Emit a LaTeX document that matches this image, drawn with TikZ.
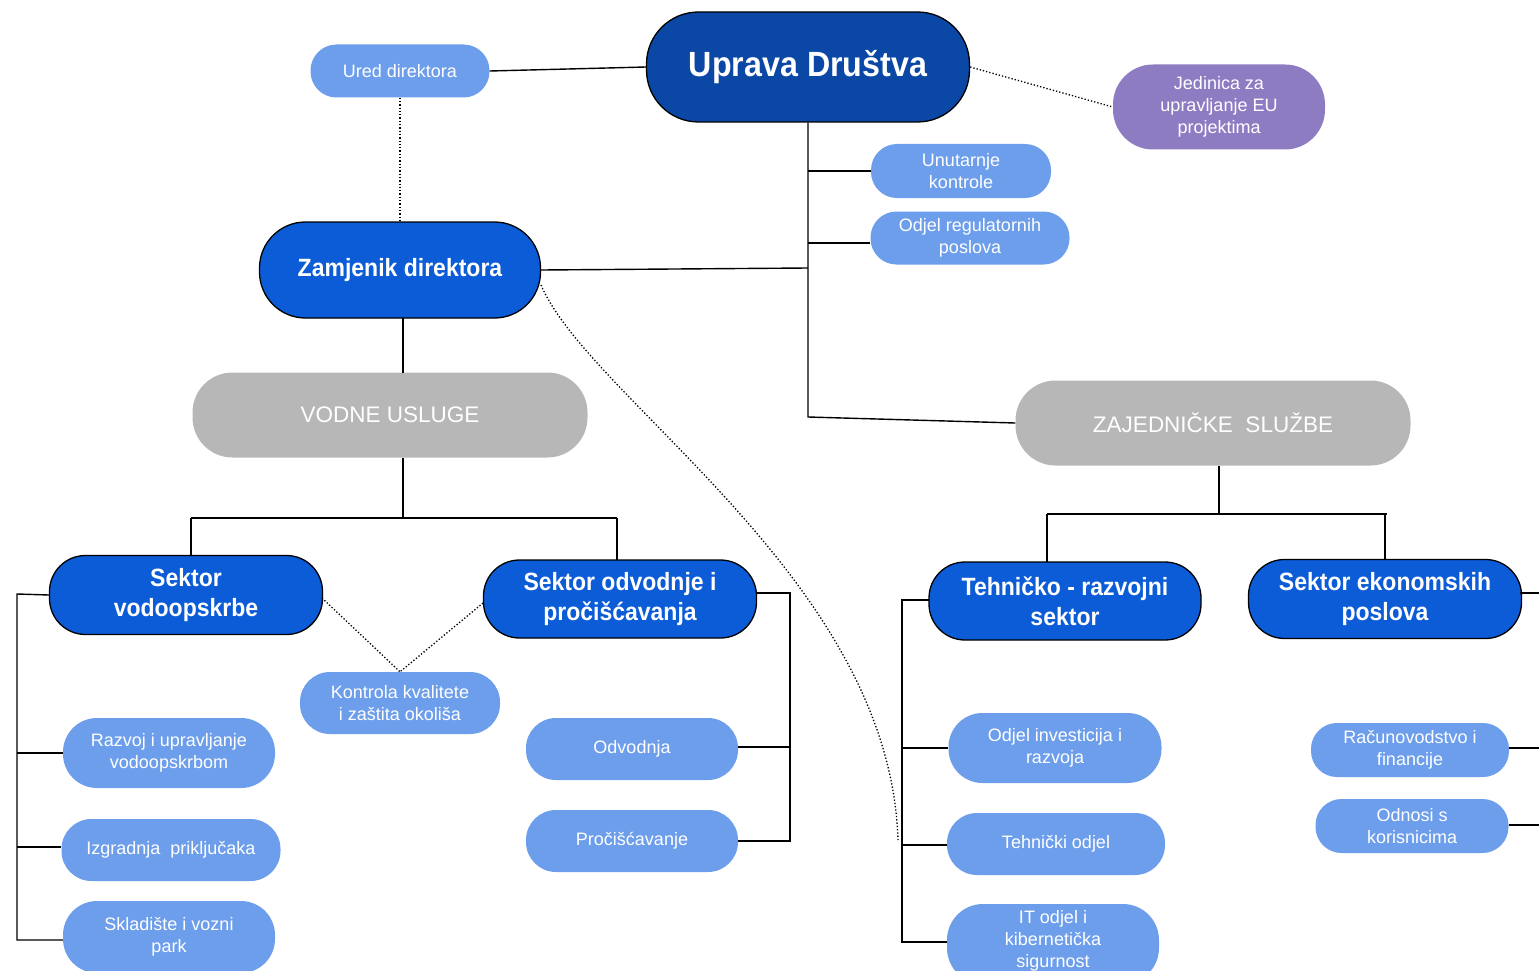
\documentclass[tikz,border=0pt]{standalone}
\usepackage{fontspec}
\setmainfont{Liberation Sans}[BoldFeatures={FakeStretch=0.92}]
\definecolor{darkblue}{HTML}{0B47A4}
\definecolor{midblue}{HTML}{0B5CD6}
\definecolor{lightblue}{HTML}{6D9EEB}
\definecolor{purp}{HTML}{8E7CC3}
\definecolor{greybox}{HTML}{B7B7B7}
\tikzset{
  sz/.style 2 args={minimum width=#1, minimum height=#2},
  lightbox/.style={fill=lightblue, font=\fontsize{18}{22}\selectfont, rounded corners=26pt, inner sep=0pt, align=center, text=white},
  purpbox/.style={fill=purp, font=\fontsize{18}{22}\selectfont, rounded corners=40pt, inner sep=0pt, align=center, text=white},
  greyb/.style={fill=greybox, font=\fontsize{22.5}{28}\selectfont, rounded corners=40pt, inner sep=0pt, align=center, text=white},
  sector/.style={fill=midblue, draw=black, line width=1.3pt, font=\bfseries\fontsize{25}{30}\selectfont, rounded corners=36pt, inner sep=0pt, align=center, text=white},
  topbox/.style={fill=darkblue, draw=black, line width=1.3pt, font=\bfseries\fontsize{35}{40}\selectfont, rounded corners=52pt, inner sep=0pt, align=center, text=white},
  conn/.style={line width=1.4pt, black},
  dots/.style={line width=1.3pt, dotted, black}
}
\begin{document}
\begin{tikzpicture}[x=1pt,y=-1pt]
\useasboundingbox (0,0) rectangle (1539,971);
% top level
\node[topbox, sz={323}{110}] (uprava) at (808,67) {Uprava Društva};
\node[lightbox, sz={179}{53}] (ured) at (400,71) {Ured direktora};
\node[purpbox, sz={212}{85}] (eu) at (1219,107) {Jedinica za\\upravljanje EU\\projektima};
\node[lightbox, sz={180}{54}] (unut) at (961,171) {Unutarnje\\kontrole};
\node[lightbox, sz={199}{53}] (regul) at (970,238) {Odjel regulatornih\\poslova};
\node[sector, sz={281}{96}, rounded corners=46pt, font=\bfseries\fontsize{25}{30}\selectfont] (zam) at (400,270) {Zamjenik direktora};
\node[greyb, sz={395}{85}] (vodne) at (390,415) {VODNE USLUGE};
\node[greyb, sz={395}{85}] (zaj) at (1213,423) {ZAJEDNIČKE\ \ SLUŽBE};
% sectors
\node[sector, sz={273}{79}] (svod) at (186,595) {Sektor\\vodoopskrbe};
\node[sector, sz={273}{78}] (sodv) at (620,599) {Sektor odvodnje i\\pročišćavanja};
\node[sector, sz={272}{78}] (steh) at (1065,601) {Tehničko - razvojni\\sektor};
\node[sector, sz={273}{79}] (seko) at (1385,599) {Sektor ekonomskih\\poslova};
% departments
\node[lightbox, sz={200}{62}, rounded corners=30pt] (kontrola) at (400,703) {Kontrola kvalitete\\i zaštita okoliša};
\node[lightbox, sz={212}{70}, rounded corners=34pt] (razvoj) at (169,753) {Razvoj i upravljanje\\vodoopskrbom};
\node[lightbox, sz={219}{62}, rounded corners=30pt] (izgr) at (171,850) {Izgradnja\ \ priključaka};
\node[lightbox, sz={212}{72}, rounded corners=34pt] (sklad) at (169,937) {Skladište i vozni\\park};
\node[lightbox, sz={212}{62}, rounded corners=30pt] (odvod) at (632,749) {Odvodnja};
\node[lightbox, sz={212}{62}, rounded corners=30pt] (proc) at (632,841) {Pročišćavanje};
\node[lightbox, sz={213}{70}, rounded corners=34pt] (inv) at (1055,748) {Odjel investicija i\\razvoja};
\node[lightbox, sz={218}{62}, rounded corners=30pt] (tehod) at (1056,844) {Tehnički odjel};
\node[lightbox, sz={212}{80}, rounded corners=36pt] (it) at (1053,944) {};
\node[lightbox, anchor=center] (ittext) at (1053,941) {IT odjel i\\kibernetička\\sigurnost};
\node[lightbox, sz={198}{54}] (racun) at (1410,750) {Računovodstvo i\\financije};
\node[lightbox, sz={193}{54}] (odnosi) at (1412,826) {Odnosi s\\korisnicima};
% coordinates
\coordinate (trunkB) at (808,417);
\coordinate (vjoin) at (403,518);
\coordinate (zjoin) at (1219,514);
\coordinate (lbrk) at (17,594);
\coordinate (rbrk) at (790,593);
\coordinate (tbrk) at (902,600);
\coordinate (curveEnd) at (898,840);
\coordinate (eoff1) at (1539,593);
\coordinate (eoff2) at (1539,748);
\coordinate (eoff3) at (1539,825);
% solid connectors
\draw[conn] (ured.east) -- (uprava.west);
\draw[conn] (uprava.south) -- (trunkB) -- (zaj.west);
\draw[conn] (808,171) -- (unut.west);
\draw[conn] (808,243) -- (regul.west |- 0,243);
\draw[conn] (zam.east) -- (808,268);
\draw[conn] (403,318) -- (403,373);
\draw[conn] (403,458) -- (vjoin);
\draw[conn] (191,518) -- (617,518);
\draw[conn] (191,518) -- (191,555);
\draw[conn] (617,518) -- (617,560);
\draw[conn] (1219,466) -- (zjoin);
\draw[conn] (1047,514) -- (1387,514);
\draw[conn] (1047,514) -- (1047,562);
\draw[conn] (1385,514) -- (1385,560);
% left bracket
\draw[conn] (svod.west) -- (lbrk) -- (17,940) -- (sklad.west |- 0,940);
\draw[conn] (17,753) -- (razvoj.west);
\draw[conn] (17,847) -- (izgr.west |- 0,847);
% right bracket for odvodnje
\draw[conn] (756,593) -- (rbrk) -- (790,841) -- (proc.east);
\draw[conn] (790,747) -- (odvod.east |- 0,747);
% technical bracket
\draw[conn] (929,600) -- (tbrk) -- (902,942) -- (it.west |- 0,942);
\draw[conn] (902,748) -- (inv.west);
\draw[conn] (902,845) -- (tehod.west |- 0,845);
% economic (off-edge)
\draw[conn] (1520,593) -- (eoff1);
\draw[conn] (racun.east |- 0,748) -- (eoff2);
\draw[conn] (odnosi.east |- 0,825) -- (eoff3);
% dotted connectors
\draw[dots] (ured.south) -- (zam.north);
\draw[dots] (uprava.east) -- (eu.west);
\draw[dots] (322,598) -- (kontrola.north);
\draw[dots] (483,603) -- (kontrola.north);
\draw[dots] (541,285) .. controls (590,400) and (890,580) .. (curveEnd);
\end{tikzpicture}
\end{document}
